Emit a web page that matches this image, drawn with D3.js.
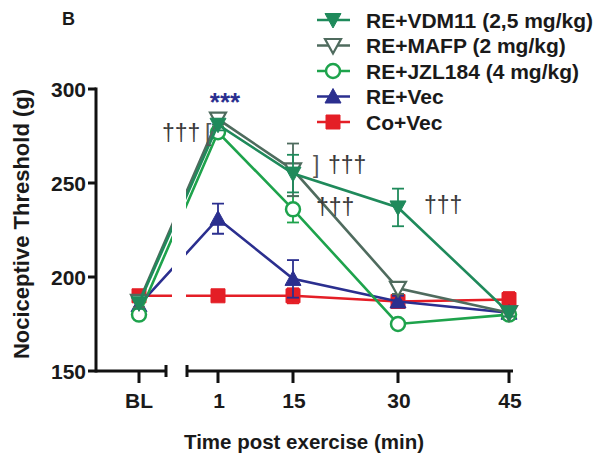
<!DOCTYPE html>
<html>
<head>
<meta charset="utf-8">
<script src="https://cdn.jsdelivr.net/npm/d3@7"></script>
<style>
body { margin: 0; background: #fff; }
svg { font-family: "Liberation Sans", Arial, sans-serif; }
</style>
</head>
<body>
<div id="chart"></div>
<script>
// time points (BL is placed before the axis break)
const timeLabels = ["BL", "1", "15", "30", "45"];
const timeKeys = [-10, 1, 15, 30, 45];

const seriesNames = ["RE+VDM11 (2,5 mg/kg)", "RE+MAFP (2 mg/kg)", "RE+JZL184 (4 mg/kg)", "RE+Vec", "Co+Vec"];
const vdm11Mean = [186, 281, 255, 237, 181];
const vdm11Sem = [3, 3, 10, 10, 2];
const mafpMean = [187, 284, 257, 194, 181];
const mafpSem = [3, 3, 14, 3, 2];
const jzlMean = [180, 277, 236, 175, 180];
const jzlSem = [2, 3, 7, 2, 2];
const reVecMean = [185, 231, 199, 187, 181];
const reVecSem = [3, 8, 10, 3, 2];
const coVecMean = [190, 190, 190, 187, 188];
const coVecSem = [2, 2, 4, 3, 4];

const yTicks = [150, 200, 250, 300];

const W = 600, H = 461;
const svg = d3.select("#chart").append("svg")
	.attr("width", W)
	.attr("height", H);

const x = d3.scaleLinear()
	.domain(timeKeys)
	.range([139, 218, 293, 398, 509]);

const y = d3.scaleLinear()
	.domain([150, 300])
	.range([371, 89]);

// styles per series, drawing order is bottom to top
const series = [
	{ name: seriesNames[4], mean: coVecMean, sem: coVecSem, color: "#e41e26", shape: "square", open: false },
	{ name: seriesNames[3], mean: reVecMean, sem: reVecSem, color: "#2b2f8f", shape: "up", open: false },
	{ name: seriesNames[2], mean: jzlMean, sem: jzlSem, color: "#1ea34c", shape: "circle", open: true },
	{ name: seriesNames[1], mean: mafpMean, sem: mafpSem, color: "#4f6b5e", shape: "down", open: true },
	{ name: seriesNames[0], mean: vdm11Mean, sem: vdm11Sem, color: "#1f8a5b", shape: "down", open: false }
];

function symbolPath(shape) {
	if (shape == "square") return "M-7,-7H7V7H-7Z";
	if (shape == "up") return "M0,-8L8,6.5L-8,6.5Z";
	if (shape == "down") return "M0,8L8,-6.5L-8,-6.5Z";
	return null;
}

function drawMarker(g, s) {
	if (s.shape == "circle") {
		g.append("circle")
			.attr("r", 7)
			.attr("fill", s.open ? "white" : s.color)
			.attr("stroke", s.color)
			.attr("stroke-width", 2.5);
	} else {
		g.append("path")
			.attr("d", symbolPath(s.shape))
			.attr("fill", s.open ? "white" : s.color)
			.attr("stroke", s.color)
			.attr("stroke-width", s.open ? 2.2 : 1);
	}
}

// clip that leaves out the axis break
const defs = svg.append("defs");
const clip = defs.append("clipPath").attr("id", "brk");
clip.append("rect").attr("x", 0).attr("y", 0).attr("width", 172).attr("height", H);
clip.append("rect").attr("x", 186).attr("y", 0).attr("width", W - 186).attr("height", H);

// axes
const axisG = svg.append("g");
axisG.append("line")
	.attr("x1", 96).attr("x2", 96)
	.attr("y1", y(300) - 1.5).attr("y2", y(150) + 1.5)
	.attr("stroke", "#111").attr("stroke-width", 3);

axisG.selectAll(".ytick")
	.data(yTicks)
	.join("line")
	.attr("x1", 88).attr("x2", 96)
	.attr("y1", d => y(d)).attr("y2", d => y(d))
	.attr("stroke", "#111").attr("stroke-width", 3);

axisG.selectAll(".ylab")
	.data(yTicks)
	.join("text")
	.attr("x", 86)
	.attr("y", d => y(d) + 7.5)
	.attr("text-anchor", "end")
	.attr("font-size", 21)
	.attr("font-weight", "bold")
	.attr("fill", "#1a1a1a")
	.text(d => d);

// x axis in two pieces
const xSegs = [[96, 166], [187, 513]];
axisG.selectAll(".xseg")
	.data(xSegs)
	.join("line")
	.attr("x1", d => d[0]).attr("x2", d => d[1])
	.attr("y1", y(150)).attr("y2", y(150))
	.attr("stroke", "#111").attr("stroke-width", 3);

axisG.selectAll(".cap")
	.data([166, 187])
	.join("line")
	.attr("x1", d => d).attr("x2", d => d)
	.attr("y1", y(150) - 6).attr("y2", y(150) + 6)
	.attr("stroke", "#111").attr("stroke-width", 3);

axisG.selectAll(".xtick")
	.data(timeKeys)
	.join("line")
	.attr("x1", d => x(d)).attr("x2", d => x(d))
	.attr("y1", y(150)).attr("y2", y(150) + 12)
	.attr("stroke", "#111").attr("stroke-width", 3);

axisG.selectAll(".xlab")
	.data(timeKeys)
	.join("text")
	.attr("x", (d, i) => x(d) + (i == 0 ? 0 : 1))
	.attr("y", 408)
	.attr("text-anchor", "middle")
	.attr("font-size", 21)
	.attr("font-weight", "bold")
	.attr("fill", "#1a1a1a")
	.text((d, i) => timeLabels[i]);

svg.append("text")
	.attr("x", 304).attr("y", 449)
	.attr("text-anchor", "middle")
	.attr("font-size", 20.5)
	.attr("font-weight", "bold")
	.attr("fill", "#1a1a1a")
	.text("Time post exercise (min)");

svg.append("text")
	.attr("transform", "translate(29,224) rotate(-90)")
	.attr("text-anchor", "middle")
	.attr("font-size", 22)
	.attr("font-weight", "bold")
	.attr("fill", "#1a1a1a")
	.text("Nociceptive Threshold (g)");

svg.append("text")
	.attr("x", 62).attr("y", 25)
	.attr("font-size", 18)
	.attr("font-weight", "bold")
	.attr("fill", "#1a1a1a")
	.text("B");

// data
const plot = svg.append("g").attr("clip-path", "url(#brk)");
const line = d3.line()
	.x((d, i) => x(timeKeys[i]))
	.y(d => y(d));

for (let s of series) {
	const g = plot.append("g");
	g.selectAll(".eb")
		.data(s.mean)
		.join("g")
		.each(function(d, i) {
			const e = d3.select(this);
			const cx = x(timeKeys[i]);
			e.append("line")
				.attr("x1", cx).attr("x2", cx)
				.attr("y1", y(d - s.sem[i])).attr("y2", y(d + s.sem[i]))
				.attr("stroke", s.color).attr("stroke-width", 1.8);
			for (let v of [d - s.sem[i], d + s.sem[i]]) {
				e.append("line")
					.attr("x1", cx - 6).attr("x2", cx + 6)
					.attr("y1", y(v)).attr("y2", y(v))
					.attr("stroke", s.color).attr("stroke-width", 1.8);
			}
		});
	g.append("path")
		.attr("d", line(s.mean))
		.attr("fill", "none")
		.attr("stroke", s.color)
		.attr("stroke-width", 2.6);
	g.selectAll(".mk")
		.data(s.mean)
		.join("g")
		.attr("transform", (d, i) => `translate(${x(timeKeys[i])},${y(d)})`)
		.each(function() { drawMarker(d3.select(this), s); });
}

// significance marks
const ann = svg.append("g").attr("font-size", 23).attr("fill", "#3a3a3a");
ann.append("text").attr("x", 225).attr("y", 111)
	.attr("text-anchor", "middle").attr("font-weight", "bold")
	.attr("font-size", 26).attr("fill", "#2b2f8f").text("***");
ann.append("text").attr("x", 162).attr("y", 141).text("†††");
ann.append("text").attr("x", 205).attr("y", 141).attr("fill", "#555").text("[");
ann.append("text").attr("x", 313).attr("y", 173).attr("fill", "#555").text("]");
ann.append("text").attr("x", 328).attr("y", 173).text("†††");
ann.append("text").attr("x", 316).attr("y", 215).text("†††");
ann.append("text").attr("x", 424).attr("y", 213).text("†††");

// legend, top to bottom in original order
const legendOrder = [series[4], series[3], series[2], series[1], series[0]];
const leg = svg.append("g");
legendOrder.forEach((s, i) => {
	const row = leg.append("g").attr("transform", `translate(0,${20 + i * 25.5})`);
	row.append("line")
		.attr("x1", 317).attr("x2", 350)
		.attr("stroke", s.color).attr("stroke-width", 2.6);
	drawMarker(row.append("g").attr("transform", "translate(333,0)"), s);
	row.append("text")
		.attr("x", 366).attr("y", 7.5)
		.attr("font-size", 21)
		.attr("font-weight", "bold")
		.attr("fill", "#1a1a1a")
		.text(s.name);
});
</script>
</body>
</html>
